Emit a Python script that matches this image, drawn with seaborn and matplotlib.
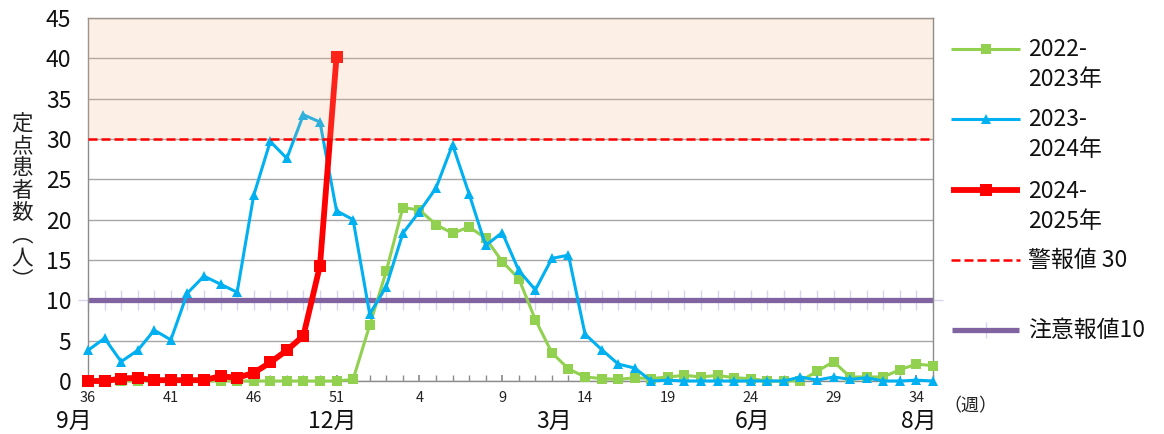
import numpy as np
import pandas as pd
import matplotlib
matplotlib.use("Agg")
import matplotlib.pyplot as plt
import seaborn as sns

# Week numbers of the season (week 36 through week 35 of the next year)
weeks = list(range(36, 53)) + list(range(1, 36))

# Cases per sentinel site, by season
season_2022_23 = [0, 0, 0, 0, 0, 0, 0, 0, 0, 0, 0, 0, 0, 0, 0, 0,
                  0.2, 6.9, 13.6, 21.5, 21.2, 19.4, 18.3, 19.1, 17.7, 14.8,
                  12.7, 7.6, 3.5, 1.5, 0.5, 0.3, 0.2, 0.4, 0.3, 0.5,
                  0.7, 0.5, 0.7, 0.4, 0.3, 0, 0, 0, 1.2, 2.4,
                  0.5, 0.5, 0.5, 1.4, 2.1, 1.9]
season_2023_24 = [3.8, 5.3, 2.4, 3.8, 6.3, 5.1, 10.9, 13.0, 12.0, 11.0,
                  23.0, 29.7, 27.6, 33.0, 32.1, 21.1, 20.0,
                  8.3, 11.7, 18.3, 21.0, 23.9, 29.3, 23.2, 16.8, 18.4,
                  13.7, 11.3, 15.2, 15.6, 5.8, 3.9, 2.1, 1.6, 0, 0.1,
                  0, 0, 0, 0, 0, 0, 0, 0.5, 0.1, 0.5,
                  0.2, 0.4, 0, 0, 0.1, 0]
season_2024_25 = [0, 0, 0.3, 0.4, 0.1, 0.1, 0.1, 0.1, 0.6, 0.4,
                  1.0, 2.3, 3.8, 5.6, 14.3, 40.2]

alert_level = 30     # 警報値
caution_level = 10   # 注意報値

tick_weeks = [36, 41, 46, 51, 4, 9, 14, 19, 24, 29, 34]
month_labels = ["9月", "12月", "3月", "6月", "8月"]
month_end_weeks = [36, 52, 13, 25, 35]

GREEN = "#92D050"
BLUE = "#00B0F0"
RED = "#FF0000"
PURPLE = "#8064A2"
CROSS = "#D6D4EC"
GRID = "#A6A6A6"
SPINE = "#8C8C8C"

sns.set_theme(style="white")
plt.rcParams["font.family"] = ["Noto Sans CJK JP", "DejaVu Sans"]

idx = np.arange(len(weeks))
df = pd.DataFrame({
    "i": idx,
    "s22": season_2022_23,
    "s23": season_2023_24,
    "caution": np.full(len(weeks), caution_level),
})
df25 = pd.DataFrame({"i": idx[:len(season_2024_25)], "s24": season_2024_25})

fig = plt.figure(figsize=(11.64, 4.34), dpi=100)
ax = fig.add_axes([88 / 1164, 1 - 381 / 434, (933 - 88) / 1164, (381 - 18) / 434])

# caution level: faint weekly cross markers under a solid purple bar
sns.lineplot(data=df, x="i", y="caution", ax=ax, linestyle="none",
             marker="+", markersize=14, markeredgecolor=CROSS,
             markeredgewidth=1.0, sort=False, legend=False, zorder=1.9,
             clip_on=False)
ax.axhline(caution_level, color=PURPLE, linewidth=3.8, zorder=2)

sns.lineplot(data=df, x="i", y="s22", ax=ax, color=GREEN, linewidth=2.2,
             marker="s", markersize=6.5, markeredgecolor=GREEN,
             markeredgewidth=0, sort=False, legend=False, zorder=3,
             clip_on=False)
sns.lineplot(data=df, x="i", y="s23", ax=ax, color=BLUE, linewidth=2.2,
             marker="^", markersize=7.5, markeredgecolor=BLUE,
             markeredgewidth=0, sort=False, legend=False, zorder=4,
             clip_on=False)
sns.lineplot(data=df25, x="i", y="s24", ax=ax, color=RED, linewidth=4.2,
             marker="s", markersize=8.5, markeredgecolor=RED,
             markeredgewidth=0, sort=False, legend=False, zorder=5,
             clip_on=False)

# alert zone tint and alert line
ax.axhspan(alert_level, 45, color="#F4B183", alpha=0.2, lw=0, zorder=6)
ax.axhline(alert_level, color=RED, linewidth=1.8, linestyle=(0, (3.6, 1.6)),
           zorder=7)

ax.set_xlim(0, len(weeks) - 1)
ax.set_ylim(0, 45)
ax.set_yticks(range(0, 50, 5))
ax.yaxis.grid(True, color=GRID, linewidth=1.0)
ax.set_axisbelow(True)
for s in ax.spines.values():
    s.set_color(SPINE)
    s.set_linewidth(1.0)
    s.set_visible(True)

ax.set_xticks([weeks.index(w) for w in tick_weeks])
ax.set_xticklabels([str(w) for w in tick_weeks], fontsize=10.5, color="#222222")
ax.set_xticks(idx, minor=True)
ax.tick_params(axis="x", which="both", direction="in", length=4,
               color=SPINE, pad=7, bottom=True)
ax.tick_params(axis="y", which="both", length=0, pad=12, labelsize=16.5,
               labelcolor="#111111")
ax.set_xlabel("")
ax.set_ylabel("")

# month labels under the week numbers
for lab, w in zip(month_labels, month_end_weeks):
    ax.text(weeks.index(w) + 0.2, -0.11, lab, transform=ax.get_xaxis_transform(),
            ha="right", va="center", fontsize=16.5, color="#111111")

# overlay in pixel coordinates for side texts and key
ov = fig.add_axes([0, 0, 1, 1], facecolor="none")
ov.set_xlim(0, 1164)
ov.set_ylim(434, 0)
ov.axis("off")

ov.text(970, 406, "（週）", ha="center", va="center", fontsize=13,
        color="#222222")
ov.text(22, 202, "\n".join("定点患者数︵人︶"), ha="center", va="center",
        fontsize=15.5, linespacing=1.03, color="#222222")

# key
keys = [
    (49, ["2022-", "2023年"], dict(color=GREEN, lw=2.2, marker="s", ms=6.5)),
    (119, ["2023-", "2024年"], dict(color=BLUE, lw=2.2, marker="^", ms=7.5)),
    (190, ["2024-", "2025年"], dict(color=RED, lw=4.2, marker="s", ms=8.5)),
]
for y, lines, style in keys:
    ov.plot([951, 1020], [y, y], color=style["color"], lw=style["lw"],
            solid_capstyle="butt")
    ov.plot([985.5], [y], linestyle="none", color=style["color"],
            marker=style["marker"], ms=style["ms"], mew=0)
    ov.text(1028, y + 1, lines[0], ha="left", va="center", fontsize=16.5,
            color="#111111")
    ov.text(1028, y + 31, lines[1], ha="left", va="center", fontsize=16.5,
            color="#111111")

ov.plot([951, 1020], [260, 260], color=RED, lw=1.8, linestyle=(0, (3.6, 1.6)))
ov.text(1028, 260, "警報値 30", ha="left", va="center", fontsize=16.5,
        color="#111111")
ov.plot([985.5], [330], linestyle="none", marker="+", ms=11,
        markeredgecolor=CROSS, mew=1.0)
ov.plot([952, 1019], [330, 330], color=PURPLE, lw=3.8, solid_capstyle="butt")
ov.text(1028, 330, "注意報値10", ha="left", va="center", fontsize=16.5,
        color="#111111")

fig.savefig("out.png", dpi=100)
